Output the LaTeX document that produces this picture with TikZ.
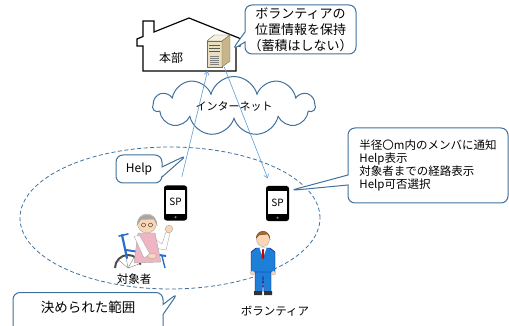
\documentclass[tikz,border=0pt]{standalone}
\usepackage{fontspec}
\setmainfont{Noto Sans CJK JP}
\usetikzlibrary{arrows.meta,positioning,calc,shapes.callouts,shapes.symbols}

\definecolor{boxblue}{HTML}{41719C}
\definecolor{linkblue}{HTML}{5B9BD5}
\definecolor{suitblue}{HTML}{1E7FD8}
\definecolor{skin}{HTML}{FAD6B4}
\definecolor{hairgrey}{HTML}{A6A6A6}
\definecolor{hairbrown}{HTML}{A86A2C}
\definecolor{apron}{HTML}{EFB5C5}
\definecolor{chairblue}{HTML}{2A6FC9}
\definecolor{srvfront}{HTML}{E9DFBE}
\definecolor{srvtop}{HTML}{F5F0DF}
\definecolor{srvside}{HTML}{C8B68A}

\tikzset{
  balloon/.style={rectangle callout, draw=boxblue, line width=1pt, fill=white,
    rounded corners=7pt, callout pointer width=10pt},
  link/.style={draw=linkblue, line width=0.6pt, -{Straight Barb[length=3.5pt,width=5pt]}},
  phone/.style={fill=black, rounded corners=2.5pt, minimum width=23pt,
    minimum height=35pt, inner sep=0pt},
  screen/.style={fill=white, minimum width=19pt, minimum height=23pt,
    inner sep=0pt, font=\fontsize{10}{10}\selectfont},
  figtext/.style={font=\fontsize{11.5}{12}\selectfont, inner sep=0pt},
}

\begin{document}
\begin{tikzpicture}[x=1pt,y=-1pt]
\useasboundingbox (0,0) rectangle (509,326);

% search range
\draw[boxblue, line width=0.8pt, dash pattern=on 4pt off 2.5pt]
  (170,218) ellipse [x radius=150pt, y radius=71pt];

% head office
\draw[line width=1.2pt] (143,71) -- (143,46) -- (137,46) -- (137,39) -- (143,36.5)
  -- (143,21) -- (154,21) -- (154,32) -- (189,18) -- (240,38.5) -- (240,46)
  -- (236,46) -- (236,71) -- cycle;
\coordinate (hqfloor) at (207.5,71);
\node[font=\fontsize{12}{12}\selectfont] (hqname) at (171,58) {本部};

% server
\coordinate (srv) at (218,51);
\filldraw[draw=srvside!60!black, line width=0.4pt, fill=srvfront] (207,41) rectangle (222,67);
\filldraw[draw=srvside!60!black, line width=0.4pt, fill=srvtop] (207,41) -- (214,35) -- (230,35) -- (222,41) -- cycle;
\filldraw[draw=srvside!60!black, line width=0.4pt, fill=srvside] (222,41) -- (230,35) -- (230,61) -- (222,67) -- cycle;
\foreach \y in {45,48,51} \draw[gray!70!black, line width=0.5pt] (209,\y) -- (220,\y);
\foreach \y in {56,58,60,62,64} \draw[gray, line width=0.4pt] (210,\y) -- (219,\y);

% internet
\node[cloud, cloud puffs=11, aspect=3.4, draw=boxblue, line width=1pt, fill=white,
  minimum width=162pt, minimum height=47pt, font=\fontsize{11}{11}\selectfont]
  (net) at (234,106) {インターネット};

% smartphones
\node[phone] (lp) at (175.5,203) {};
\node[screen] (lpscr) at ([yshift=1pt]lp.center) {SP};
\fill[gray] ([yshift=3.5pt]lp.south) circle (1.2pt);
\node[phone] (rp) at (277.5,203.5) {};
\node[screen] (rpscr) at ([yshift=1pt]rp.center) {SP};
\fill[gray] ([yshift=3.5pt]rp.south) circle (1.2pt);

% traffic
\draw[link, shorten <=27pt] (lp.center) -- (hqfloor);
\draw[link, shorten <=17pt, shorten >=27pt] (srv) -- (rp.center);

% balloons
\node[balloon, callout absolute pointer={($(srv)+(14,-1)$)}, align=center,
  minimum width=111pt, minimum height=49pt, inner sep=2pt,
  font=\fontsize{13}{16}\selectfont] (memo) at (300.5,29.5)
  {ボランティアの\\位置情報を保持\\（蓄積はしない）};
\node[balloon, callout absolute pointer={(187,155)}, minimum width=46pt,
  minimum height=28pt, font=\fontsize{12}{12}\selectfont] (help) at (139,169) {Help};
\node[balloon, callout absolute pointer={($(rp.east)+(1,-13)$)}, align=left,
  minimum width=160pt, minimum height=75pt, font=\fontsize{11.5}{13.3}\selectfont]
  (notice) at (428,165.5)
  {半径〇m内のメンバに通知\\Help表示\\対象者までの経路表示\\Help可否選択};
\node[balloon, anchor=north, minimum width=150pt, text height=10pt, text depth=30pt,
  inner ysep=10pt, callout absolute pointer={(178,293)},
  font=\fontsize{13.5}{14}\selectfont] (area) at (88,292) {決められた範囲};

% person in wheelchair
\draw[gray!60!black, line width=2pt] (115,268) arc[start angle=180, end angle=15, radius=13pt];
\foreach \a in {20,60,100,140} \draw[gray, line width=0.4pt] (128,268) -- ++(\a:12pt);
\draw[chairblue, line width=2.2pt, line cap=round] (122,235) -- (127,258);
\draw[chairblue, line width=1.6pt, line cap=round] (119,236) -- (128,234);
\draw[chairblue, line width=2pt] (126,250) -- (166,256);
\draw[chairblue, line width=1.4pt] (162,256) -- (165,268);
\filldraw[draw=gray!70, line width=0.4pt, fill=white] (153,238) -- (162,244) -- (166,232)
  -- (170,233) -- (166,250) -- (154,248) -- cycle;
\filldraw[draw=gray!70, line width=0.4pt, fill=apron] (138,233) -- (155,233) -- (161,262)
  -- (134,263) -- cycle;
\filldraw[draw=gray!70, line width=0.4pt, fill=white] (134,236) -- (140,236) -- (150,254)
  -- (144,258) -- cycle;
\filldraw[draw=gray!70, line width=0.4pt, fill=skin] (152,256) ellipse [x radius=4.5pt, y radius=2.8pt];
\filldraw[draw=gray!70, line width=0.4pt, fill=skin] (169,229) circle (3.8pt);
\filldraw[draw=gray!70, line width=0.4pt, fill=skin] (147,223.5) circle (9.5pt);
\filldraw[draw=gray!70, line width=0.4pt, fill=hairgrey] (137,225)
  arc[start angle=180, end angle=0, radius=10pt] -- (154,219) -- (141,219.5) -- cycle;
\draw[black, line width=0.3pt] (143.5,225) circle (2pt) (150.5,225) circle (2pt);
\node[figtext] (tgtname) at (134,279) {対象者};

% volunteer
\filldraw[draw=blue!50!black, line width=0.4pt, fill=suitblue] (255,270) -- (271,270)
  -- (271,292) -- (264,292) -- (263,276) -- (262,292) -- (255,292) -- cycle;
\filldraw[draw=blue!50!black, line width=0.4pt, fill=suitblue] (256,248) -- (270,248)
  -- (275,252) -- (275,272) -- (251,272) -- (251,252) -- cycle;
\fill[white] (259.5,248) -- (266.5,248) -- (263,258) -- cycle;
\fill[red!80!black] (262.3,249) -- (263.7,249) -- (264.3,257) -- (263,259.5) -- (261.7,257) -- cycle;
\filldraw[draw=gray!70, line width=0.3pt, fill=skin] (252.5,273) circle (2pt) (273.5,273) circle (2pt);
\fill[black!80] (254,291) rectangle (262,295) (264,291) rectangle (272,295);
\filldraw[draw=gray!70, line width=0.4pt, fill=skin] (263,239) ellipse [x radius=6.5pt, y radius=7.5pt];
\filldraw[draw=hairbrown!70!black, line width=0.4pt, fill=hairbrown] (256.3,238)
  arc[start angle=180, end angle=0, radius=6.7pt] -- (268,234) -- (259,235) -- cycle;
\node[figtext] (volname) at (275,311) {ボランティア};
\end{tikzpicture}
\end{document}
